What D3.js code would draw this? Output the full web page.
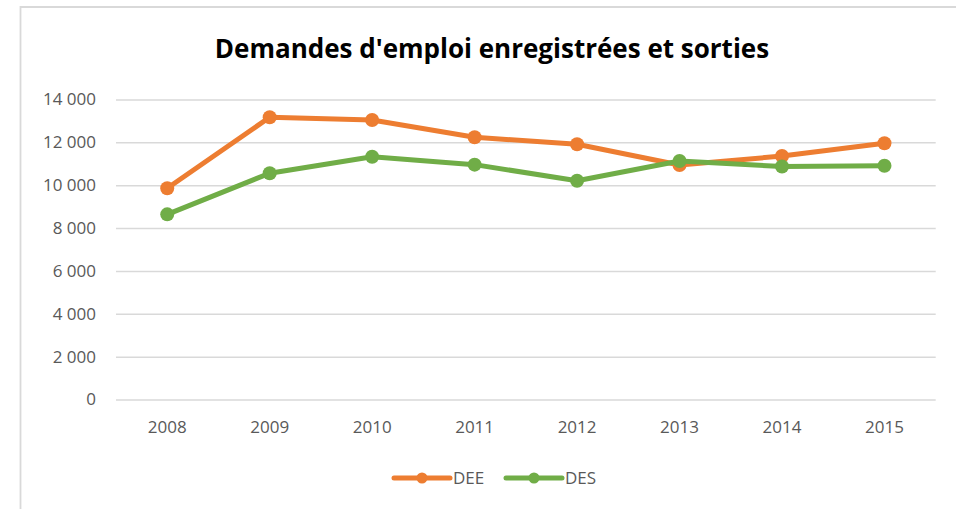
<!DOCTYPE html>
<html lang="fr">
<head>
  <meta charset="UTF-8">
  <title>Demandes d'emploi enregistrées et sorties</title>
  <script src="https://d3js.org/d3.v7.min.js"></script>
  <style>
    body { margin: 0; background: #fff; }
    text { font-family: "Open Sans", "Noto Sans", sans-serif; }
  </style>
</head>
<body>
  <div id="chart"></div>

  <script>
    // values
    const years = ["2008", "2009", "2010", "2011", "2012", "2013", "2014", "2015"];
    const dee = [9860, 13170, 13040, 12240, 11910, 10940, 11360, 11960];
    const des = [8640, 10560, 11330, 10960, 10210, 11130, 10870, 10910];
    const yTicks = [0, 2000, 4000, 6000, 8000, 10000, 12000, 14000];
    const seriesNames = ["DEE", "DES"];
    const seriesColors = ["#ED7D31", "#70AD47"];

    const W = 956, H = 509;
    const margin = { top: 99.5, right: 20.3, bottom: 109.5, left: 116 };
    const width = W - margin.left - margin.right;
    const height = H - margin.top - margin.bottom;

    const svg = d3.select("#chart")
      .append("svg")
      .attr("width", W)
      .attr("height", H);

    // chart frame (only top and left edges show in the crop)
    svg.append("path")
      .attr("d", "M20.5,509 V7 H956")
      .attr("fill", "none")
      .attr("stroke", "#d9d9d9")
      .attr("stroke-width", 1.8);

    svg.append("text")
      .attr("x", 492)
      .attr("y", 58)
      .attr("text-anchor", "middle")
      .style("font-size", "26px")
      .style("font-weight", "bold")
      .style("fill", "#000")
      .text("Demandes d'emploi enregistrées et sorties");

    const g = svg.append("g")
      .attr("transform", "translate(" + margin.left + "," + margin.top + ")");

    const x = d3.scaleBand()
      .domain(years)
      .range([0, width]);

    const y = d3.scaleLinear()
      .domain([0, 14000])
      .range([height, 0]);

    const fmt = d => d3.format(",")(d).replace(/,/g, " ");

    // gridlines + y labels
    const yAxis = g.append("g")
      .call(d3.axisLeft(y).tickValues(yTicks).tickSize(-width).tickFormat(fmt).tickPadding(20));
    yAxis.select(".domain").remove();
    yAxis.selectAll(".tick line").attr("stroke", "#d9d9d9").attr("stroke-width", 1.5);
    yAxis.selectAll(".tick text")
      .style("font-size", "17px")
      .style("fill", "#595959");

    // x labels
    const xAxis = g.append("g")
      .attr("transform", "translate(0," + height + ")")
      .call(d3.axisBottom(x).tickSize(0).tickPadding(21));
    xAxis.select(".domain").remove();
    xAxis.selectAll(".tick text")
      .style("font-size", "17px")
      .style("fill", "#595959");

    const series = [dee, des];
    const line = d3.line()
      .x((d, i) => x(years[i]) + x.bandwidth() / 2)
      .y(d => y(d));

    series.forEach((vals, s) => {
      g.append("path")
        .datum(vals)
        .attr("fill", "none")
        .attr("stroke", seriesColors[s])
        .attr("stroke-width", 5)
        .attr("stroke-linejoin", "round")
        .attr("d", line);
      g.selectAll(".dot" + s)
        .data(vals)
        .enter().append("circle")
        .attr("cx", (d, i) => x(years[i]) + x.bandwidth() / 2)
        .attr("cy", d => y(d))
        .attr("r", 7)
        .attr("fill", seriesColors[s]);
    });

    // legend
    const legendX = [394, 506];
    const legend = svg.append("g").attr("transform", "translate(0,478)");
    seriesNames.forEach((name, s) => {
      const lg = legend.append("g").attr("transform", "translate(" + legendX[s] + ",0)");
      lg.append("line")
        .attr("x1", 0).attr("x2", 56)
        .attr("stroke", seriesColors[s])
        .attr("stroke-width", 5)
        .attr("stroke-linecap", "round");
      lg.append("circle")
        .attr("cx", 28).attr("r", 5.5)
        .attr("fill", seriesColors[s]);
      lg.append("text")
        .attr("x", 59)
        .attr("dy", "0.35em")
        .style("font-size", "17px")
        .style("fill", "#595959")
        .text(name);
    });
  </script>
</body>
</html>
